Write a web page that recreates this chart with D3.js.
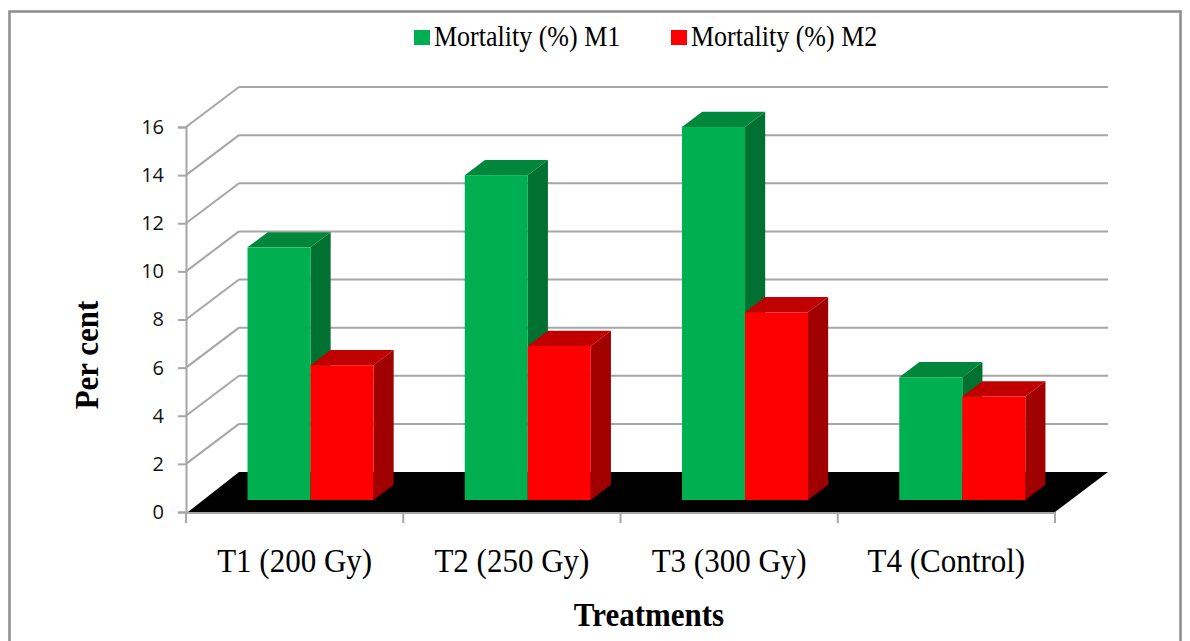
<!DOCTYPE html>
<html>
<head>
<meta charset="utf-8">
<script src="https://cdn.jsdelivr.net/npm/d3@7"></script>
<style>
  body { margin: 0; background: #fff; }
  svg { display: block; }
</style>
</head>
<body>
<div id="chart"></div>
<script>
var categories = ["T1 (200 Gy)", "T2 (250 Gy)", "T3 (300 Gy)", "T4 (Control)"];
var seriesNames = ["Mortality (%) M1", "Mortality (%) M2"];
var m1Values = [10.5, 13.5, 15.5, 5.1];
var m2Values = [5.6, 6.4, 7.8, 4.3];
var yTicks = [0, 2, 4, 6, 8, 10, 12, 14, 16];

function init() {
    var w = 1190;
    var h = 641;
    var left = 186, right = 1055, bottom = 512, top = 127;
    var dx = 53, dy = -40;          // depth vector of the 3D box
    var f0 = 0.3, f1 = 0.68;        // bar front / back depth fractions
    var stretch = 1.12;             // text in the picture is a bit tall

    var colors = [
        { front: "#00b050", top: "#00873c", side: "#007131" },
        { front: "#ff0000", top: "#c00000", side: "#a00000" }
    ];

    var svg = d3.select("#chart")
        .append("svg")
        .attr("width", w)
        .attr("height", h);

    // outer border
    svg.append("rect")
        .attr("x", 9.5).attr("y", 11.5)
        .attr("width", 1171).attr("height", 660)
        .attr("fill", "none")
        .attr("stroke", "#8c8c8c")
        .attr("stroke-width", 2.5);

    var xScale = d3.scaleBand()
        .domain(categories)
        .range([left, right])
        .paddingInner(0.42)
        .paddingOuter(0.21);
    var xInner = d3.scaleBand()
        .domain(seriesNames)
        .range([0, xScale.bandwidth()]);
    var yScale = d3.scaleLinear()
        .domain([0, 16])
        .range([bottom, top]);

    // back wall gridlines and side wall diagonals
    yTicks.forEach(function (t) {
        if (t === 0) return;
        var y = yScale(t);
        svg.append("line")
            .attr("x1", left + dx).attr("y1", y + dy)
            .attr("x2", right + dx).attr("y2", y + dy)
            .attr("stroke", "#a6a6a6").attr("stroke-width", 2);
        svg.append("line")
            .attr("x1", left).attr("y1", y)
            .attr("x2", left + dx).attr("y2", y + dy)
            .attr("stroke", "#a6a6a6").attr("stroke-width", 2);
    });

    // x axis line and ticks
    svg.append("line")
        .attr("x1", left).attr("y1", bottom + 1)
        .attr("x2", right).attr("y2", bottom + 1)
        .attr("stroke", "#a6a6a6").attr("stroke-width", 2);
    var boundaries = categories.map(function (c) { return xScale(c) - xScale.step() * 0.21; });
    boundaries.push(right);
    boundaries.forEach(function (bx) {
        svg.append("line")
            .attr("x1", bx).attr("y1", bottom)
            .attr("x2", bx).attr("y2", bottom + 11)
            .attr("stroke", "#a6a6a6").attr("stroke-width", 2);
    });

    // floor
    svg.append("path")
        .attr("d", "M" + (left + 2) + "," + bottom + "L" + right + "," + bottom +
            "L" + (right + dx) + "," + (bottom + dy) + "L" + (left + dx) + "," + (bottom + dy) + "Z")
        .attr("fill", "#000");

    // y axis
    var yAxis = d3.axisLeft(yScale).tickValues(yTicks).tickSize(8).tickPadding(14);
    var yg = svg.append("g")
        .attr("transform", "translate(" + left + ",0)")
        .call(yAxis);
    yg.select(".domain").attr("stroke", "#a6a6a6").attr("stroke-width", 2);
    yg.selectAll(".tick line").attr("stroke", "#a6a6a6").attr("stroke-width", 2);
    yg.selectAll(".tick text")
        .attr("font-family", "'Open Sans', sans-serif")
        .attr("font-size", 20)
        .attr("fill", "#111");

    // bars
    var allValues = [m1Values, m2Values];
    categories.forEach(function (c, i) {
        seriesNames.forEach(function (s, j) {
            var v = allValues[j][i];
            var x0 = xScale(c) + xInner(s) + dx * f0;
            var x1 = x0 + xInner.bandwidth();
            var yb = yScale(0) + dy * f0;
            var yt = yScale(v) + dy * f0;
            var ddx = dx * (f1 - f0), ddy = dy * (f1 - f0);
            var col = colors[j];
            var g = svg.append("g");
            g.append("path")
                .attr("d", "M" + x1 + "," + yt + "L" + (x1 + ddx) + "," + (yt + ddy) +
                    "L" + (x1 + ddx) + "," + (yb + ddy) + "L" + x1 + "," + yb + "Z")
                .attr("fill", col.side);
            g.append("path")
                .attr("d", "M" + x0 + "," + yt + "L" + (x0 + ddx) + "," + (yt + ddy) +
                    "L" + (x1 + ddx) + "," + (yt + ddy) + "L" + x1 + "," + yt + "Z")
                .attr("fill", col.top);
            g.append("rect")
                .attr("x", x0).attr("y", yt)
                .attr("width", x1 - x0).attr("height", yb - yt)
                .attr("fill", col.front);
        });
    });

    // category labels
    categories.forEach(function (c) {
        svg.append("text")
            .attr("transform", "translate(" + (xScale(c) + xScale.bandwidth() / 2) + ",572) scale(1," + stretch + ")")
            .attr("text-anchor", "middle")
            .attr("font-family", "'Liberation Serif', serif")
            .attr("font-size", 31)
            .attr("fill", "#000")
            .text(c);
    });

    // axis titles
    svg.append("text")
        .attr("transform", "translate(649,626) scale(1," + stretch + ")")
        .attr("text-anchor", "middle")
        .attr("font-family", "'Liberation Serif', serif")
        .attr("font-weight", "bold")
        .attr("font-size", 31)
        .text("Treatments");
    svg.append("text")
        .attr("transform", "translate(98,355) rotate(-90) scale(1," + stretch + ")")
        .attr("text-anchor", "middle")
        .attr("font-family", "'Liberation Serif', serif")
        .attr("font-weight", "bold")
        .attr("font-size", 31)
        .text("Per cent");

    // legend
    var legendX = [414, 671];
    seriesNames.forEach(function (s, j) {
        svg.append("rect")
            .attr("x", legendX[j]).attr("y", 30)
            .attr("width", 16).attr("height", 15)
            .attr("fill", colors[j].front);
        svg.append("text")
            .attr("transform", "translate(" + (legendX[j] + 20) + ",46) scale(1," + stretch + ")")
            .attr("font-family", "'Liberation Serif', serif")
            .attr("font-size", 26)
            .attr("fill", "#000")
            .text(s);
    });
}

window.onload = init;
</script>
</body>
</html>
